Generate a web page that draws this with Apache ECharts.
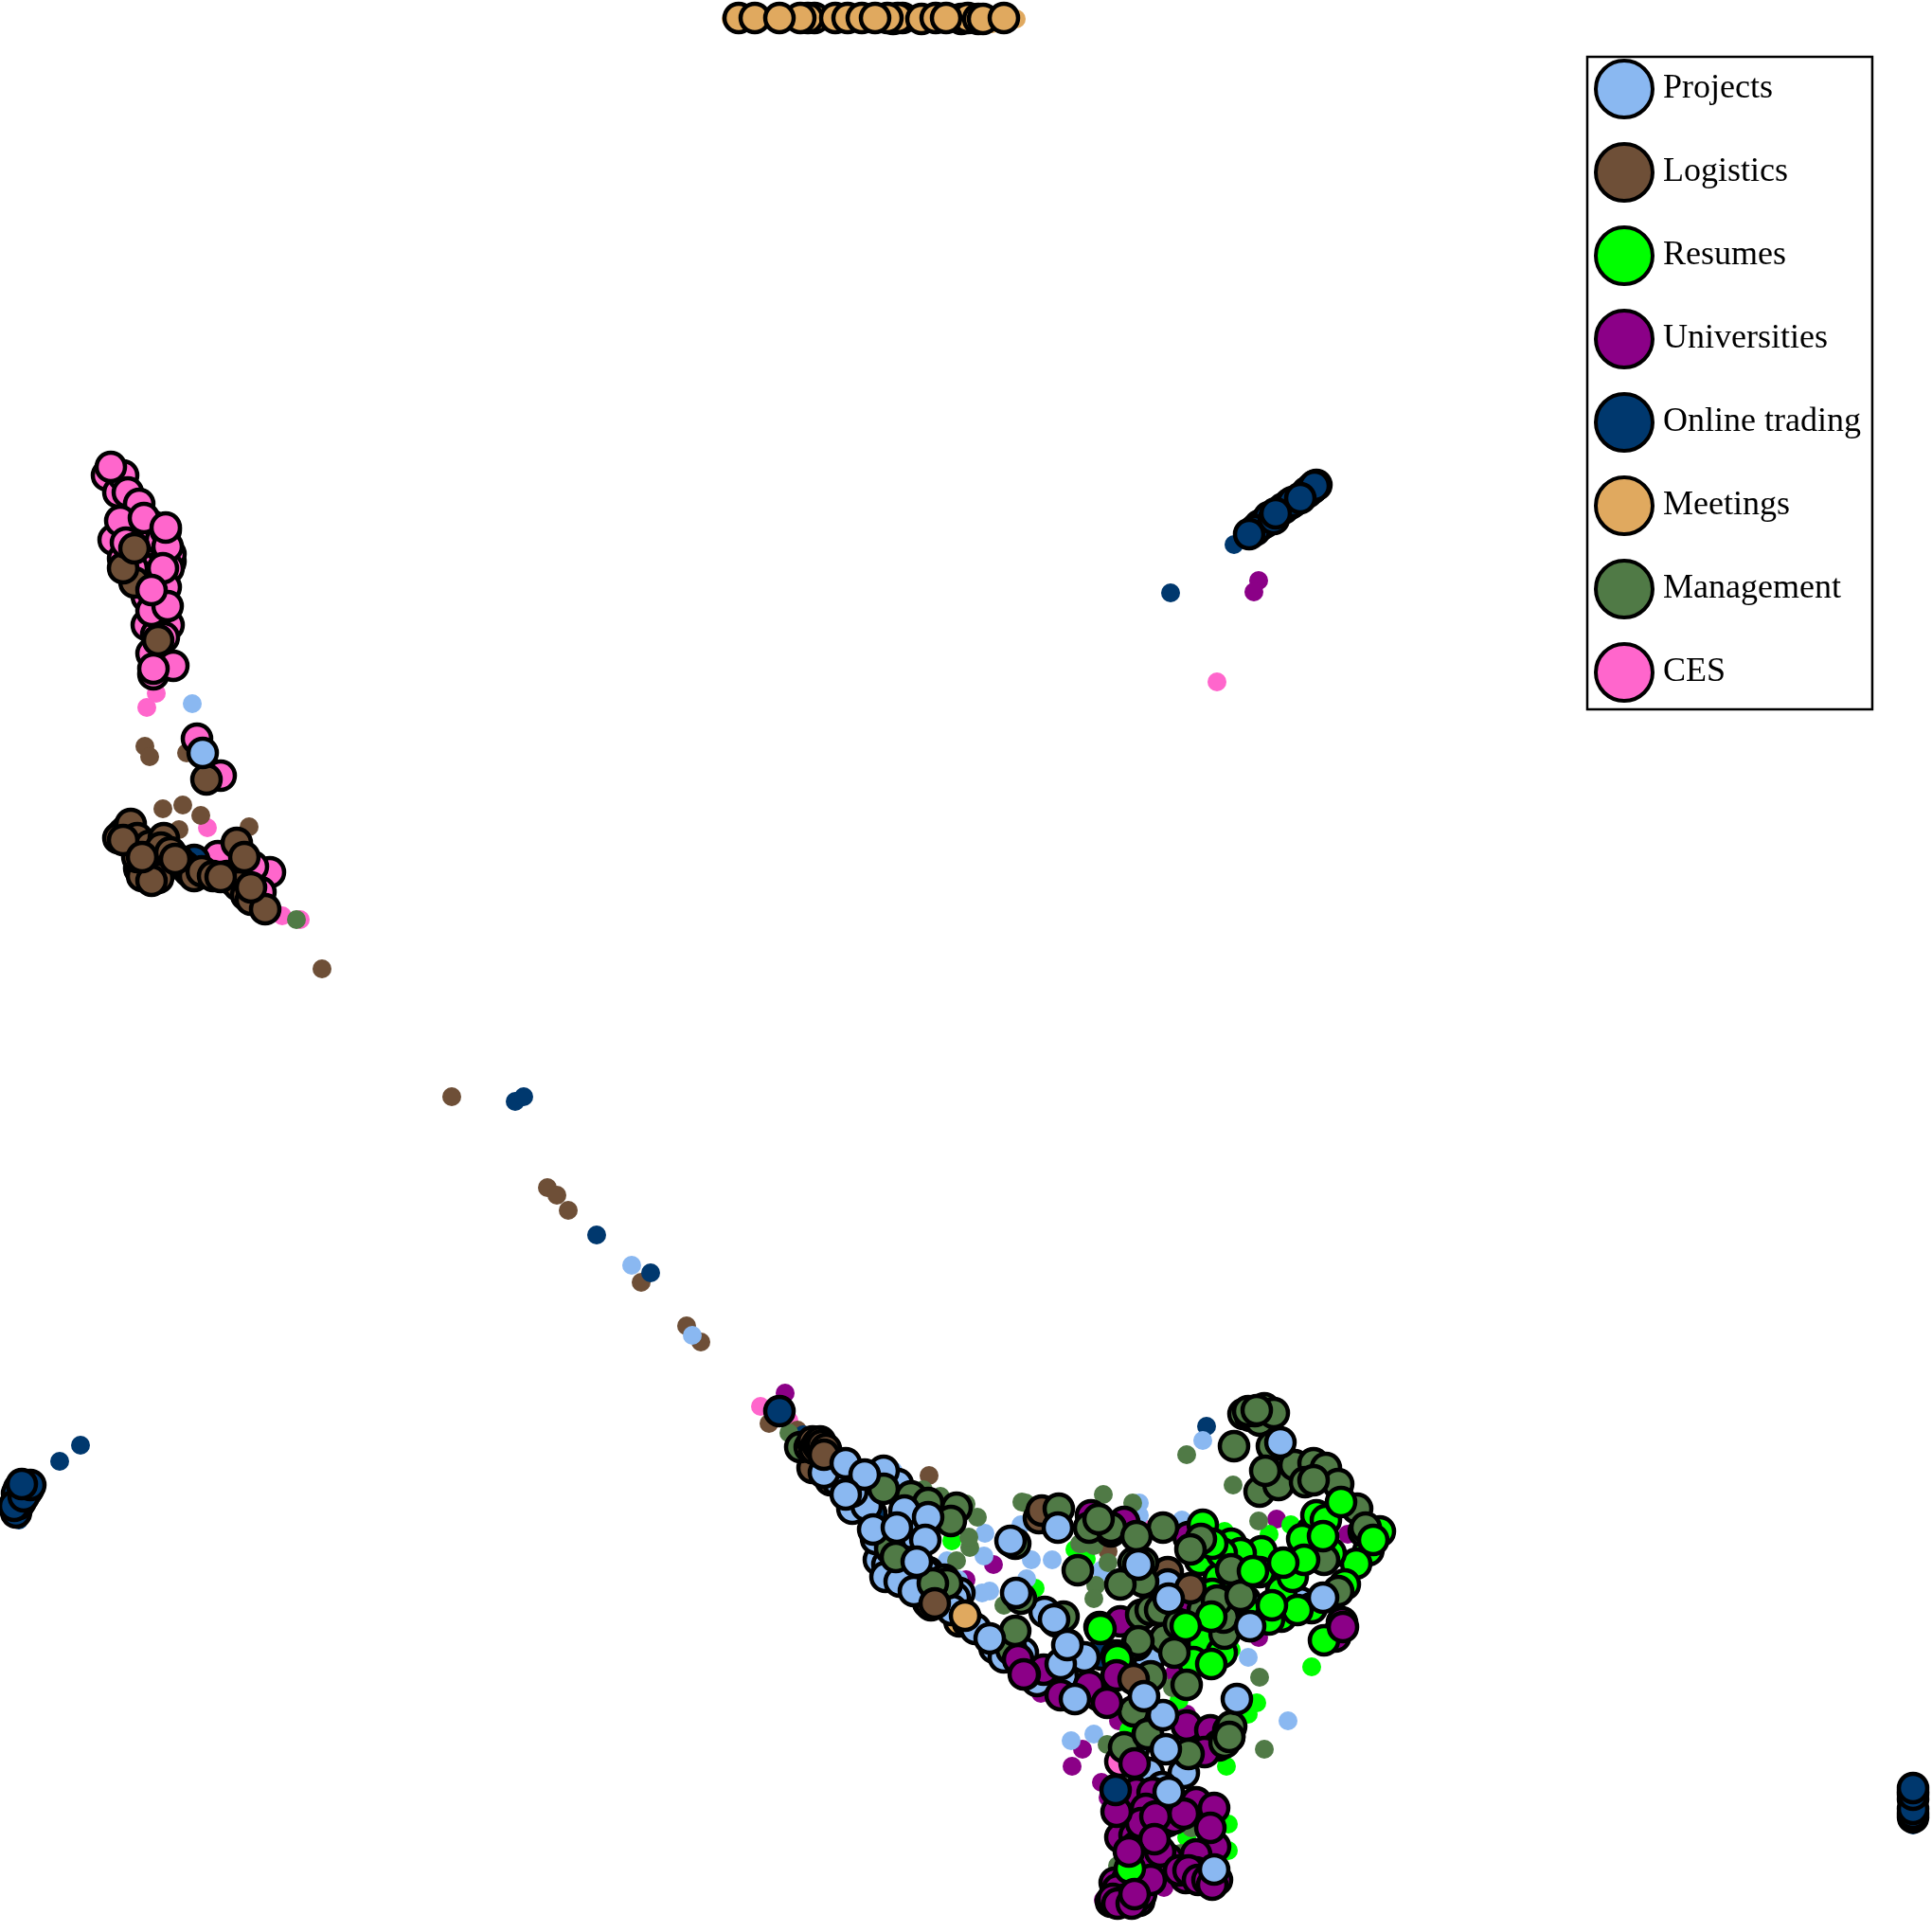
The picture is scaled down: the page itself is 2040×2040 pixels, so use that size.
<!DOCTYPE html>
<html><head><meta charset="utf-8">
<style>html,body{margin:0;padding:0;background:#fff}#c{width:2040px;height:2040px}</style>
<script src="https://cdn.jsdelivr.net/npm/echarts@6/dist/echarts.min.js"></script>
</head><body><div id="c"></div>
<script>
const categories = ["Projects","Logistics","Resumes","Universities","Online trading","Meetings","Management","CES"];
const colors = {"Projects":"#8ab8f1","Logistics":"#6e4f37","Resumes":"#00ff00","Universities":"#8b0087","Online trading":"#00386e","Meetings":"#e0a95f","Management":"#507a46","CES":"#ff66cc"};

// plain dots (no outline)
const dotsProjects = [[203,743],[667,1336],[731,1410],[943,1553],[1040,1619],[1039,1643],[1089,1647],[1111,1647],[1084,1667],[1045,1680],[1037,1682],[1000,1648],[1270,1521],[1203,1587],[1203,1600],[1248,1605],[1165,1659],[1163,1658],[1318,1750],[1360,1817],[1131,1838],[1155,1831],[1078,1610],[1012,1668],[1210,1660]];
const dotsLogistics = [[153,788],[158,799],[197,795],[172,854],[193,850],[212,861],[189,876],[263,873],[340,1023],[477,1158],[578,1254],[588,1262],[600,1278],[677,1354],[725,1400],[740,1417],[812,1503],[842,1510],[981,1558],[1170,1638]];
const dotsResumes = [[1005,1627],[1093,1677],[1135,1636],[1147,1646],[1293,1617],[1340,1620],[1363,1610],[1300,1742],[1385,1760],[1248,1743],[1327,1798],[1318,1810],[1295,1865],[1245,1795],[1192,1827],[1297,1926],[1297,1954],[1253,1940],[1193,1973]];
const dotsUniversities = [[1329,613],[1324,625],[829,1471],[1049,1652],[1020,1668],[1348,1604],[1423,1620],[1329,1729],[1099,1788],[1240,1767],[1181,1817],[1143,1847],[1132,1865],[1163,1882],[1170,1898],[1165,2006],[1229,1993],[1253,1810]];
const dotsOnline = [[1303,575],[1236,626],[20,1605],[63,1543],[85,1526],[544,1163],[553,1158],[630,1304],[687,1344],[848,1515],[1274,1506],[2020,1927]];
const dotsMeetings = [[772,20],[1073,20],[1048,25]];
const dotsManagement = [[313,971],[833,1513],[975,1573],[993,1580],[1020,1588],[1032,1602],[1079,1586],[1024,1634],[1023,1623],[1010,1648],[1060,1695],[1253,1536],[1302,1568],[1329,1606],[1165,1578],[1196,1587],[1083,1587],[1140,1630],[1155,1632],[1157,1674],[1155,1688],[1170,1650],[1142,1630],[1330,1771],[1335,1847],[1223,1772],[1238,1782],[1169,1842],[1258,1930],[1180,1970],[1247,1957]];
const dotsCES = [[1285,720],[165,732],[155,747],[219,874],[298,967],[317,971],[803,1485],[833,1500],[1206,1613]];

// outlined circles, lower layer
const ringsCES = [[113,502],[130,560],[150,580],[120,570],[180,593],[170,640],[165,600],[147,615],[155,660],[162,712],[230,904],[285,921],[275,942],[267,915],[1362,532],[1183,1860],[125,520],[140,540],[160,555],[170,570],[180,585],[178,600],[130,590],[150,600],[165,620],[140,600],[155,630],[175,620],[170,650],[165,670],[160,690],[178,660]];
const ringsOnline = [[205,908],[1385,516],[1390,512],[1330,555],[1335,552],[1340,546],[1355,537],[1365,530],[1380,520],[1325,560],[1345,548],[20,1572],[18,1577],[17,1597],[20,1588],[25,1570],[30,1572],[22,1585],[28,1575],[15,1590],[25,1580],[32,1568],[2020,1919],[2020,1915],[2020,1892],[2020,1900],[2020,1910],[2020,1895],[920,1598],[1163,1747]];
const ringsMeetings = [[780,19],[860,19],[853,19],[845,19],[882,19],[895,19],[910,19],[943,20],[953,19],[948,19],[937,19],[973,20],[988,19],[1015,20],[1022,19],[1033,20],[1038,20],[1013,1712]];
const ringsLogistics = [[142,615],[130,600],[135,875],[130,880],[140,880],[125,885],[138,870],[145,885],[147,917],[157,927],[167,927],[150,925],[160,930],[145,905],[158,893],[173,885],[170,895],[180,900],[188,908],[195,915],[200,920],[205,925],[213,920],[225,925],[240,925],[247,930],[252,935],[250,890],[258,905],[260,945],[265,950],[280,960],[858,1550],[877,1563],[980,1692],[983,1695],[1022,1713],[1097,1603],[1233,1660],[1100,1595]];
const ringsProjects = [[948,1567],[933,1553],[900,1593],[980,1602],[968,1649],[928,1647],[937,1652],[980,1660],[963,1620],[1013,1682],[1008,1687],[1128,1737],[1103,1702],[1115,1712],[1122,1770],[1145,1750],[1233,1673],[1202,1652],[1320,1717],[1373,1692],[1213,1753],[1213,1900],[1233,1923],[1257,1967],[968,1648],[978,1662],[1250,1872],[1197,1847],[1213,1872],[1227,1887],[915,1590],[925,1625],[935,1665],[950,1670],[965,1680],[995,1690],[1005,1700],[1030,1720],[1050,1740],[1060,1750],[1080,1745],[1095,1775],[900,1575],[885,1565],[870,1555],[1270,1735],[1260,1745],[1315,1690]];
const ringsUniversities = [[1102,1763],[1082,1768],[1160,1790],[1152,1600],[1187,1607],[1255,1623],[1257,1690],[1183,1712],[1253,1822],[1278,1827],[1287,1843],[1272,1850],[1200,1893],[1217,1893],[1263,1903],[1282,1909],[1283,1950],[1263,1958],[1183,1940],[1198,1938],[1233,1963],[1210,1980],[1252,1983],[1263,1977],[1280,1987],[1177,1988],[1187,2007],[1173,2008],[1203,2007],[1198,1957],[1410,1728],[1417,1713],[1200,1950],[1190,1985],[1210,1960],[1225,1955],[1245,1975],[1255,1975],[1265,1985],[1275,1985],[1285,1985],[1280,1990],[1180,1995],[1190,2005],[1205,2000],[1215,1985],[1175,2005],[1180,2010],[1195,2010],[1210,1910],[1240,1920],[1250,1915],[1205,1925],[1150,1780],[1120,1790]];
const ringsResumes = [[1270,1610],[1267,1647],[1287,1667],[1280,1683],[1252,1717],[1300,1630],[1310,1655],[1332,1638],[1353,1680],[1353,1707],[1317,1703],[1385,1617],[1390,1600],[1457,1617],[1445,1637],[1432,1651],[1420,1673],[1385,1698],[1398,1732],[1193,1973],[1280,1710],[1267,1743],[1330,1660],[1365,1665],[1370,1700],[1340,1710],[1300,1690],[1270,1735],[1260,1755],[1290,1745],[1310,1640],[1290,1640],[1280,1630],[1405,1640],[1375,1625],[1400,1605]];
const ringsManagement = [[1333,1493],[1313,1493],[1340,1492],[1320,1495],[1330,1500],[1325,1490],[1335,1487],[1345,1492],[1318,1490],[1343,1527],[1330,1575],[1350,1568],[1367,1547],[1387,1545],[1400,1550],[1413,1567],[1378,1565],[1433,1593],[1440,1617],[1398,1647],[1300,1657],[1413,1680],[1293,1725],[1292,1708],[1230,1730],[1200,1737],[1205,1705],[1207,1650],[1197,1650],[1207,1670],[1173,1617],[1150,1613],[1118,1593],[1268,1625],[1078,1688],[1072,1630],[940,1635],[962,1580],[980,1587],[1010,1592],[1123,1707],[1068,1742],[1197,1807],[1212,1831],[1187,1845],[845,1528],[997,1668],[1173,1613],[1000,1672],[985,1672],[1215,1700],[1225,1700],[1240,1745],[1215,1770],[1245,1715],[1270,1700],[1285,1690]];

// outlined circles, upper layer
const topCES = [[130,502],[135,520],[147,532],[127,550],[152,547],[175,560],[177,577],[133,573],[172,600],[160,645],[177,640],[183,703],[162,706],[173,673],[160,623],[175,557],[117,493],[208,780],[233,819]];
const topManagement = [[933,1572],[1004,1606],[946,1644],[1327,1489],[1303,1527],[1336,1553],[1387,1563],[1442,1613],[1310,1685],[1257,1636],[1228,1613],[1200,1622],[1160,1604],[1138,1658],[1183,1673],[1202,1733],[1072,1722],[1253,1779],[1212,1831],[1255,1852],[1298,1834],[1297,1827],[1300,1823],[1293,1840],[1298,1834]];
const topResumes = [[1416,1586],[1397,1622],[1377,1647],[1450,1626],[1323,1659],[1343,1695],[1355,1650],[1279,1707],[1252,1717],[1161,1718],[1162,1720],[1179,1748],[1180,1752],[1279,1757]];
const topUniversities = [[1418,1718],[1075,1752],[1081,1768],[1179,1769],[1169,1798],[1179,1913],[1220,1918],[1278,1930],[1219,1942],[1192,1955],[1198,2000],[1198,1862]];
const topLogistics = [[142,579],[167,676],[130,887],[150,905],[185,907],[233,926],[265,937],[218,823],[855,1528],[858,1522],[860,1530],[863,1525],[865,1528],[866,1522],[868,1526],[872,1530],[870,1536],[987,1693],[1257,1677],[1197,1773]];
const topProjects = [[214,795],[893,1545],[913,1557],[893,1578],[922,1615],[955,1595],[980,1602],[947,1613],[977,1626],[968,1649],[1067,1627],[1073,1682],[1045,1730],[1117,1613],[1202,1652],[1352,1523],[1397,1687],[1234,1688],[1113,1710],[1120,1757],[1127,1737],[1135,1794],[1320,1717],[1306,1794],[1228,1811],[1231,1847],[1208,1791],[1234,1892],[1282,1974]];
const topOnline = [[823,1490],[1388,513],[1373,526],[1347,542],[1319,564],[23,1567],[2020,1888],[1178,1890]];
const topMeetings = [[924,19],[797,19],[823,19],[999,19],[1060,19],[1019,1706]];

const dotLayer = [["CES",dotsCES],["Logistics",dotsLogistics],["Universities",dotsUniversities],["Resumes",dotsResumes],["Online trading",dotsOnline],["Projects",dotsProjects],["Meetings",dotsMeetings],["Management",dotsManagement]];
const ringLayer = [["CES",ringsCES],["Online trading",ringsOnline],["Meetings",ringsMeetings],["Logistics",ringsLogistics],["Projects",ringsProjects],["Universities",ringsUniversities],["Resumes",ringsResumes],["Management",ringsManagement]];
const topLayer = [["CES",topCES],["Management",topManagement],["Resumes",topResumes],["Universities",topUniversities],["Logistics",topLogistics],["Projects",topProjects],["Online trading",topOnline],["Meetings",topMeetings]];

const series = [];
dotLayer.forEach(([name,data])=>series.push({name,type:"scatter",data,symbol:"circle",symbolSize:20,silent:true,clip:false,animation:false,itemStyle:{color:colors[name],opacity:1}}));
[ringLayer,topLayer].forEach(layer=>layer.forEach(([name,data])=>series.push({name,type:"scatter",data,symbol:"circle",symbolSize:30,silent:true,clip:false,animation:false,itemStyle:{color:colors[name],borderColor:"#000",borderWidth:4.5,opacity:1}})));

const chart = echarts.init(document.getElementById("c"),null,{renderer:"canvas"});
chart.setOption({
  animation:false,
  backgroundColor:"#fff",
  grid:{left:0,right:0,top:0,bottom:0},
  xAxis:{type:"value",min:0,max:2040,show:false},
  yAxis:{type:"value",min:0,max:2040,inverse:true,show:false},
  legend:{
    data:categories,orient:"vertical",left:1676,top:60,
    padding:[2,12,7,7],itemGap:24,itemWidth:72,itemHeight:60,icon:"circle",
    selectedMode:false,backgroundColor:"#fff",borderColor:"#000",borderWidth:2.5,
    itemStyle:{borderColor:"#000",borderWidth:4},
    textStyle:{fontFamily:"Liberation Serif",fontSize:36,color:"#000"}
  },
  series
});
</script></body></html>
